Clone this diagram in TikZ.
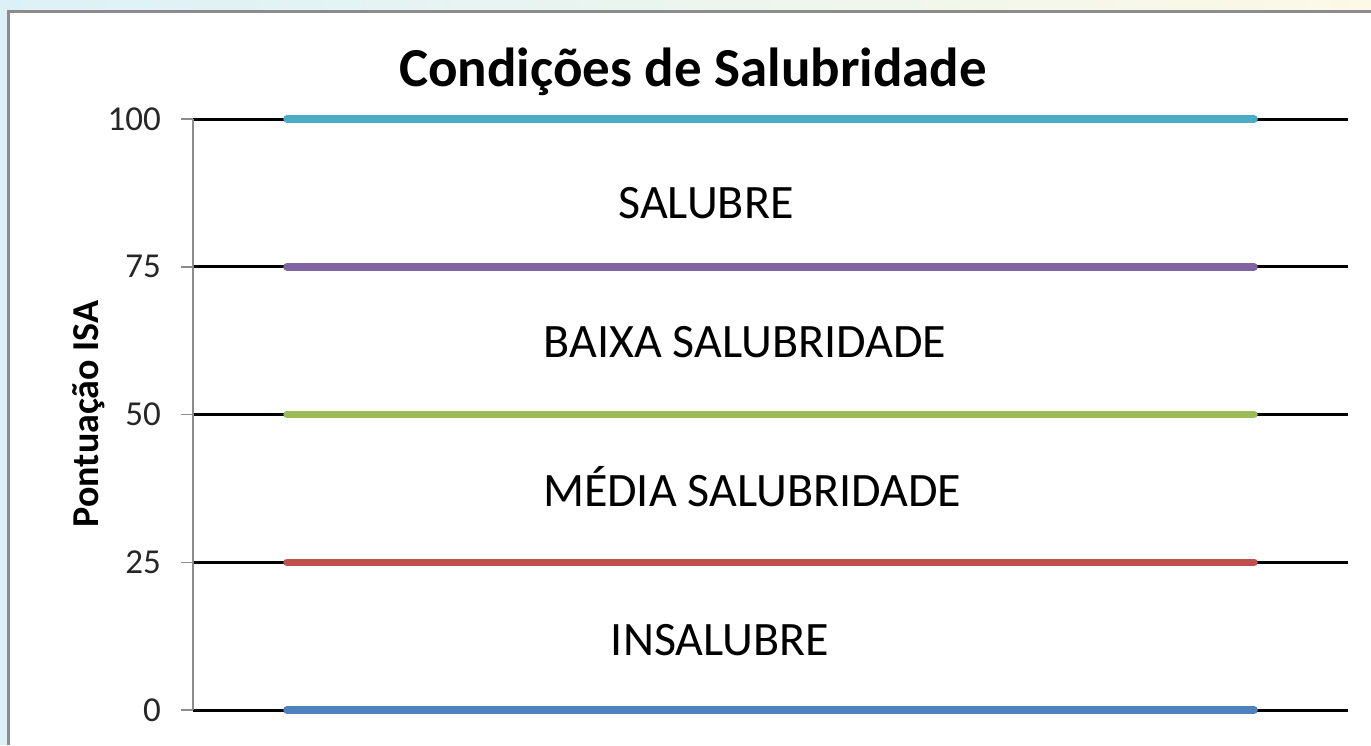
\documentclass[tikz,border=0pt]{standalone}
\usepackage{fontspec}
\setmainfont{Carlito}
\usetikzlibrary{positioning}
\definecolor{isaCyan}{HTML}{4BACC6}
\definecolor{isaPurple}{HTML}{8064A2}
\definecolor{isaGreen}{HTML}{9BBB59}
\definecolor{isaRed}{HTML}{C0504D}
\definecolor{isaBlue}{HTML}{4F81BD}
\definecolor{bgBlue}{HTML}{DCF1F7}
\definecolor{bgCream}{HTML}{FCF9E6}
\definecolor{frameGray}{HTML}{8C8C8C}
\begin{document}
\begin{tikzpicture}[x=1pt,y=-1pt,
  tick/.style={anchor=east, inner sep=0pt, text=black!85, font=\fontsize{35}{35}\selectfont},
  band/.style={anchor=base, inner sep=0pt, font=\fontsize{48}{48}\selectfont},
  baseline/.style={line width=3pt, black},
  levelline/.style={line width=7.5pt, line cap=round}]
\useasboundingbox (0,0) rectangle (1371,745);
% background and frame
\shade[left color=bgBlue, right color=bgCream] (0,0) rectangle (1371,12);
\fill[bgBlue] (0,0) rectangle (8,745);
\fill[white] (8,11) rectangle (1371,745);
\draw[frameGray, line width=3pt] (8,745) -- (8,11) -- (1371,11);
% title and axis label
\node (title) [anchor=base, inner sep=0pt, font=\fontsize{55}{55}\selectfont\bfseries] at (693,86) {Condições de Salubridade};
\node (ylab) [anchor=base, inner sep=0pt, rotate=90, font=\fontsize{38}{38}\selectfont\bfseries] at (98,414) {Pontuação ISA};
% levels
\foreach \v/\c in {0/isaBlue,25/isaRed,50/isaGreen,75/isaPurple,100/isaCyan}{
  \pgfmathsetmacro\yy{710-5.91*\v}
  \node (t\v) [tick] at (161,\yy) {\v};
  \coordinate (k\v) at (181,\yy);
  \coordinate (a\v) at (193,\yy);
  \coordinate (b\v) at (1348,\yy);
  \coordinate (c\v) at (287,\yy);
  \coordinate (d\v) at (1254,\yy);
  \draw[frameGray, line width=1.5pt] (k\v) -- (a\v);
  \draw[baseline] (a\v) -- (b\v);
  \draw[levelline, \c] (c\v) -- (d\v);
}
\draw[frameGray, line width=1.5pt] (a0) -- (a100);
% bands
\node (salubre) [band] at (706,218) {SALUBRE};
\node (baixa) [band] at (745,357) {BAIXA SALUBRIDADE};
\node (media) [band] at (752,506) {MÉDIA SALUBRIDADE};
\node (insalubre) [band] at (720,655) {INSALUBRE};
\end{tikzpicture}
\end{document}
